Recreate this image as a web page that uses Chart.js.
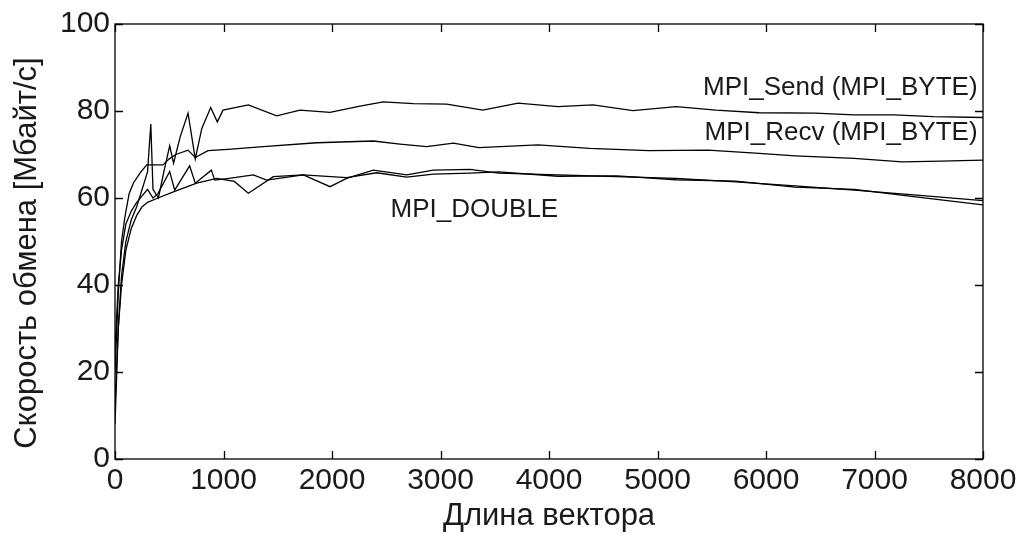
<!DOCTYPE html>
<html>
<head>
<meta charset="utf-8">
<script src="https://cdn.jsdelivr.net/npm/chart.js@4"></script>
<style>
  html, body { margin: 0; padding: 0; background: #fff; }
  #wrap { width: 1022px; height: 544px; }
</style>
</head>
<body>
<div id="wrap"><canvas id="c" width="1022" height="544"></canvas></div>
<script>
// ---- data (vector length -> exchange rate, MB/s) ----
const sendByteX = [0, 30, 60, 100, 150, 200, 250, 300, 330, 350, 400, 450, 504, 540, 600, 673, 740, 800, 882, 943, 995, 1229, 1490, 1705, 1982, 2258, 2473, 2750, 3057, 3390, 3715, 4083, 4406, 4774, 5171, 5539, 5936, 6451, 6812, 7180, 7539, 8000];
const sendByteY = [8, 30, 42, 50, 55, 58, 62, 66, 77, 62, 60, 66, 72, 68, 74, 79.5, 69, 76, 80.8, 77.5, 80.2, 81.4, 78.9, 80.2, 79.7, 81.1, 82.1, 81.7, 81.6, 80.2, 81.8, 81.0, 81.4, 80.1, 81.0, 80.2, 79.6, 79.5, 79.1, 79.1, 78.7, 78.5];

const recvByteX = [0, 30, 60, 92, 130, 169, 230, 292, 442, 500, 560, 673, 740, 857, 1041, 1367, 1859, 2381, 2627, 2873, 3119, 3354, 3899, 4373, 4920, 5466, 5903, 6267, 6812, 7254, 7613, 8000];
const recvByteY = [20, 38, 50, 55.7, 61, 63.4, 65.7, 67.6, 67.6, 69, 70, 71, 69.3, 70.9, 71.2, 71.8, 72.7, 73.1, 72.4, 71.8, 72.6, 71.6, 72.2, 71.4, 70.9, 71.0, 70.3, 69.7, 69.1, 68.3, 68.5, 68.7];

const sendDoubleX = [0, 30, 60, 100, 150, 200, 250, 300, 396, 550, 753, 937, 1100, 1229, 1459, 1736, 1982, 2135, 2381, 2688, 2934, 3272, 3536, 4083, 4626, 5171, 5721, 6267, 6812, 7361, 8000];
const sendDoubleY = [12, 30, 40, 48, 53, 56, 58, 59, 60, 61.5, 63.4, 64.5, 63.8, 61.1, 64.9, 65.3, 62.6, 64.5, 66.4, 65.3, 66.4, 66.6, 65.7, 65.3, 64.9, 64.5, 63.7, 62.8, 61.8, 60.7, 59.4];

const recvDoubleX = [0, 30, 60, 100, 150, 200, 300, 350, 396, 504, 550, 688, 740, 888, 919, 1050, 1275, 1398, 1736, 2135, 2412, 2688, 2934, 3272, 3536, 4083, 4626, 5171, 5721, 6267, 6812, 7361, 8000];
const recvDoubleY = [25, 40, 48, 54, 57, 59, 62, 60, 61, 66.1, 61.8, 67.4, 63.4, 66.4, 64.1, 64.5, 65.3, 64.1, 65.3, 64.7, 65.8, 64.8, 65.5, 65.7, 66.0, 65.0, 65.1, 64.2, 63.9, 62.5, 62.0, 60.3, 58.4];

const xTicks = [0, 1000, 2000, 3000, 4000, 5000, 6000, 7000, 8000];
const yTicks = [0, 20, 40, 60, 80, 100];

const labels = [
  { text: 'MPI_Send (MPI_BYTE)', x: 7950, y: 85.3, align: 'right' },
  { text: 'MPI_Recv (MPI_BYTE)', x: 7950, y: 74.9, align: 'right' },
  { text: 'MPI_DOUBLE', x: 2540, y: 57.2, align: 'left' }
];

const xTitle = 'Длина вектора';
const yTitle = 'Скорость обмена [Мбайт/с]';

// ---- build ----
const pts = (xs, ys) => xs.map((x, i) => ({ x: x, y: ys[i] }));
const lineStyle = { borderColor: '#000', borderWidth: 1.3, pointRadius: 0, tension: 0, fill: false };
const FONT = '"Liberation Sans", Arial, sans-serif';
const TXT = '#1a1a1a';

const framePlugin = {
  id: 'frame',
  afterDraw(chart) {
    const { ctx, chartArea: a, scales } = chart;
    ctx.save();
    ctx.strokeStyle = '#000';
    ctx.lineWidth = 1.3;
    ctx.strokeRect(a.left, a.top, a.right - a.left, a.bottom - a.top);
    const L = 8;
    ctx.beginPath();
    xTicks.forEach(v => {
      const px = Math.round(scales.x.getPixelForValue(v)) + 0.5;
      ctx.moveTo(px, a.bottom); ctx.lineTo(px, a.bottom - L);
      ctx.moveTo(px, a.top); ctx.lineTo(px, a.top + L);
    });
    yTicks.forEach(v => {
      const py = Math.round(scales.y.getPixelForValue(v)) + 0.5;
      ctx.moveTo(a.left, py); ctx.lineTo(a.left + L, py);
      ctx.moveTo(a.right, py); ctx.lineTo(a.right - L, py);
    });
    ctx.stroke();
    ctx.fillStyle = TXT;
    ctx.font = '26px ' + FONT;
    ctx.textBaseline = 'middle';
    labels.forEach(l => {
      ctx.textAlign = l.align;
      ctx.fillText(l.text, scales.x.getPixelForValue(l.x), scales.y.getPixelForValue(l.y));
    });
    // y-axis title
    ctx.font = '31px ' + FONT;
    ctx.textAlign = 'center';
    ctx.translate(27, 253);
    ctx.rotate(-Math.PI / 2);
    ctx.fillText(yTitle, 0, 0);
    ctx.restore();
  }
};

new Chart(document.getElementById('c'), {
  type: 'line',
  data: {
    datasets: [
      Object.assign({ label: 'MPI_Send (MPI_BYTE)', data: pts(sendByteX, sendByteY) }, lineStyle),
      Object.assign({ label: 'MPI_Recv (MPI_BYTE)', data: pts(recvByteX, recvByteY) }, lineStyle),
      Object.assign({ label: 'MPI_Send (MPI_DOUBLE)', data: pts(sendDoubleX, sendDoubleY) }, lineStyle),
      Object.assign({ label: 'MPI_Recv (MPI_DOUBLE)', data: pts(recvDoubleX, recvDoubleY) }, lineStyle)
    ]
  },
  options: {
    responsive: false,
    animation: false,
    layout: { padding: { top: 24, right: 39, left: 0, bottom: 0 } },
    plugins: { legend: { display: false }, tooltip: { enabled: false } },
    scales: {
      x: {
        type: 'linear', min: 0, max: 8000,
        afterBuildTicks: s => { s.ticks = xTicks.map(v => ({ value: v })); },
        afterFit: s => { s.height = 85; },
        grid: { display: false, drawTicks: false },
        border: { display: false },
        ticks: { color: TXT, font: { family: FONT, size: 30 }, padding: 4, maxRotation: 0, autoSkip: false, callback: v => String(v) },
        title: { display: true, text: xTitle, color: TXT, font: { family: FONT, size: 31 }, padding: { top: 0, bottom: 9 } }
      },
      y: {
        min: 0, max: 100,
        afterBuildTicks: s => { s.ticks = yTicks.map(v => ({ value: v })); },
        afterFit: s => { s.width = 115; },
        grid: { display: false, drawTicks: false },
        border: { display: false },
        ticks: { color: TXT, font: { family: FONT, size: 30 }, padding: 5, callback: v => String(v) },
        title: { display: false }
      }
    }
  },
  plugins: [framePlugin]
});
</script>
</body>
</html>
